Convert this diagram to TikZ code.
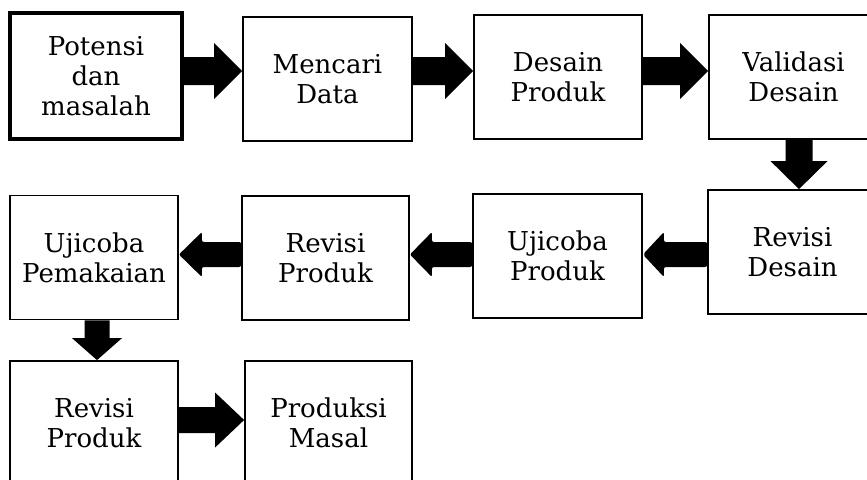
\documentclass[tikz,border=0pt]{standalone}
\usepackage{fontspec}
\setmainfont{DejaVu Serif}
\usetikzlibrary{calc}
\tikzset{
  box/.style={draw, line width=1.8pt, inner sep=0pt, align=center,
    font=\fontsize{26}{30}\selectfont, minimum width=#1, minimum height=124pt},
  box/.default=168pt,
  thickbox/.style={box=172pt, line width=4pt, minimum height=126pt},
  arrfill/.style={fill=black}
}
% horizontal block arrow: from anchor, to anchor, cy, shaft half, head half, head length (signed), style
\newcommand\harr[7]{%
\fill[arrfill,#7] let \p1=(#1), \p2=(#2) in
 (\x1,{-(#3-#4)*1pt}) -- ({\x2-#6*1pt},{-(#3-#4)*1pt}) -- ({\x2-#6*1pt},{-(#3-#5)*1pt})
 -- (\x2,{-#3*1pt}) -- ({\x2-#6*1pt},{-(#3+#5)*1pt}) -- ({\x2-#6*1pt},{-(#3+#4)*1pt})
 -- (\x1,{-(#3+#4)*1pt}) -- cycle;}
% vertical (downward) block arrow
\newcommand\varr[7]{%
\fill[arrfill,#7] let \p1=(#1), \p2=(#2) in
 ({(#3-#4)*1pt},\y1) -- ({(#3-#4)*1pt},{\y2+#6*1pt}) -- ({(#3-#5)*1pt},{\y2+#6*1pt})
 -- ({#3*1pt},\y2) -- ({(#3+#5)*1pt},{\y2+#6*1pt}) -- ({(#3+#4)*1pt},{\y2+#6*1pt})
 -- ({(#3+#4)*1pt},\y1) -- cycle;}
\begin{document}
\begin{tikzpicture}[x=1pt,y=-1pt]
\useasboundingbox (0,0) rectangle (867,479);
\clip (0,0) rectangle (867,479);
% row 1
\node[thickbox] (n1) at (96,76) {Potensi\\dan\\masalah};
\node[box=169pt] (n2) at (327.5,79) {Mencari\\Data};
\node[box] (n3) at (558,77) {Desain\\Produk};
\node[box=169pt] (n4) at (793.5,77) {Validasi\\Desain};
% row 2
\node[box=169pt] (n5) at (792.5,252) {Revisi\\Desain};
\node[box=169pt] (n6) at (557.5,256) {Ujicoba\\Produk};
\node[box=167pt] (n7) at (325.5,258) {Revisi\\Produk};
\node[box] (n8) at (94,257.5) {Ujicoba\\Pemakaian};
% row 3
\node[box] (n9) at (94,423) {Revisi\\Produk};
\node[box=167pt] (n10) at (328.5,423) {Produksi\\Masal};
% arrows
\harr{n1.east}{n2.west}{71}{14}{28}{28}{}
\harr{n2.east}{n3.west}{71}{14}{28}{28}{}
\harr{n3.east}{n4.west}{71}{14}{28}{28}{}
\varr{n4.south}{n5.north}{799}{13.5}{28.5}{28}{}
\harr{n5.west}{n6.east}{254.5}{12.5}{22.5}{-21}{rounded corners=2pt}
\harr{n6.west}{n7.east}{254.5}{12.5}{22.5}{-22}{rounded corners=2pt}
\harr{n7.west}{n8.east}{254.5}{12.5}{22.5}{-23}{rounded corners=2pt}
\varr{n8.south}{n9.north}{97}{12.5}{25}{22}{}
\harr{n9.east}{n10.west}{420}{13}{27.5}{29}{}
\end{tikzpicture}
\end{document}
